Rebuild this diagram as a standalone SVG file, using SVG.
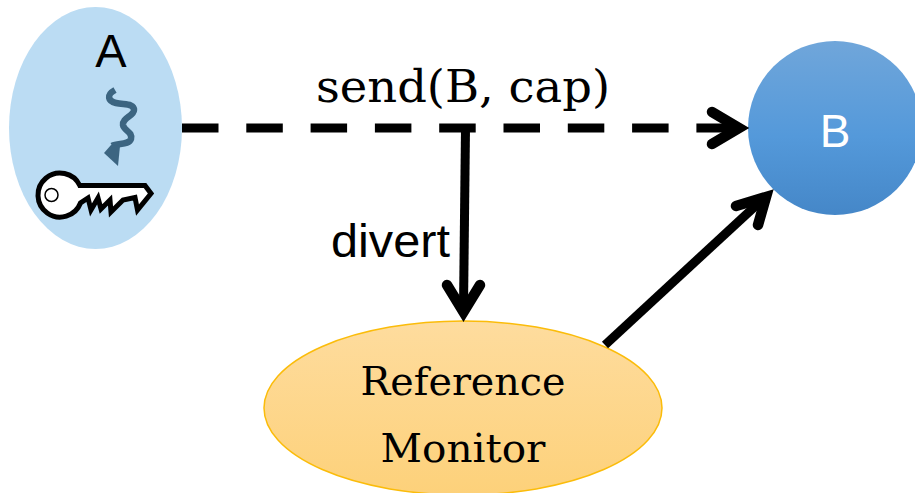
<svg xmlns="http://www.w3.org/2000/svg" width="915" height="493" viewBox="0 0 915 493">
<style>
.sans{font-family:"Liberation Sans",Arial,sans-serif}
.slab{font-family:"DejaVu Serif",serif;fill:#000}
.conn{fill:none;stroke:#000;stroke-width:9}
.head{fill:none;stroke:#000;stroke-width:10.5;stroke-linecap:round;stroke-linejoin:miter;stroke-miterlimit:10}
</style>
<defs>
<linearGradient id="gb" x1="0" y1="0" x2="0" y2="1"><stop offset="0" stop-color="#70a6da"/><stop offset="0.55" stop-color="#5499da"/><stop offset="1" stop-color="#4587c8"/></linearGradient>
<linearGradient id="gr" x1="0" y1="0" x2="0" y2="1"><stop offset="0" stop-color="#fedc9e"/><stop offset="1" stop-color="#fdd17a"/></linearGradient>
</defs>
<g id="node-a">
<ellipse cx="95.5" cy="128" rx="86.5" ry="121" fill="#bbdcf3"/>
<text class="sans" x="111" y="66.5" font-size="47" text-anchor="middle">A</text>
<path d="M115 90C106 95 108 101 116 103C124 105 134 103 134 110C134 116 122 118 123 125C124 131 133 132 131 139C129 145 118 143 112 146" fill="none" stroke="#3c6581" stroke-width="6.5"/>
<path d="M104 153L111 145L120 146L118 166Z" fill="#3c6581"/>
<path d="M79.800 185.500H145L151 193.500L137.500 210L135 197.500L123 200L111 212L110 200L101 209L98 198L91 210L88 198L80.500 203A22 22 0 1 1 79.800 185.500Z" fill="#fff" stroke="#000" stroke-width="5" stroke-miterlimit="6"/>
<circle cx="51.500" cy="195" r="6.500" fill="none" stroke="#000" stroke-width="1.500"/>
</g>
<g id="node-b">
<circle cx="835" cy="128" r="87" fill="url(#gb)"/>
<text class="sans" x="835" y="146.500" font-size="46" text-anchor="middle" fill="#fff">B</text>
</g>
<g id="node-monitor">
<ellipse cx="463" cy="408" rx="199" ry="87" fill="url(#gr)" stroke="#fbbc0a" stroke-width="1.500"/>
<text class="slab" x="463" y="394.500" font-size="39" text-anchor="middle" textLength="205" lengthAdjust="spacingAndGlyphs">Reference</text>
<text class="slab" x="463" y="461.500" font-size="39" text-anchor="middle" textLength="165" lengthAdjust="spacingAndGlyphs">Monitor</text>
</g>
<g id="connectors">
<path class="conn" d="M182 128H736" stroke-dasharray="36.500 27.800"/>
<path class="head" d="M712 112L739 128L712 144"/>
<path class="conn" d="M465.500 128L463.500 308"/>
<path class="head" d="M447 285L463.500 312L480 285"/>
<path class="conn" d="M605 345L764 198"/>
<path class="head" d="M736 206L766 197L758 225"/>
</g>
<text class="slab" x="316" y="101.500" font-size="44" textLength="294" lengthAdjust="spacingAndGlyphs">send(B, cap)</text>
<text class="sans" x="331" y="256.500" font-size="47" textLength="119" lengthAdjust="spacingAndGlyphs">divert</text>
</svg>
